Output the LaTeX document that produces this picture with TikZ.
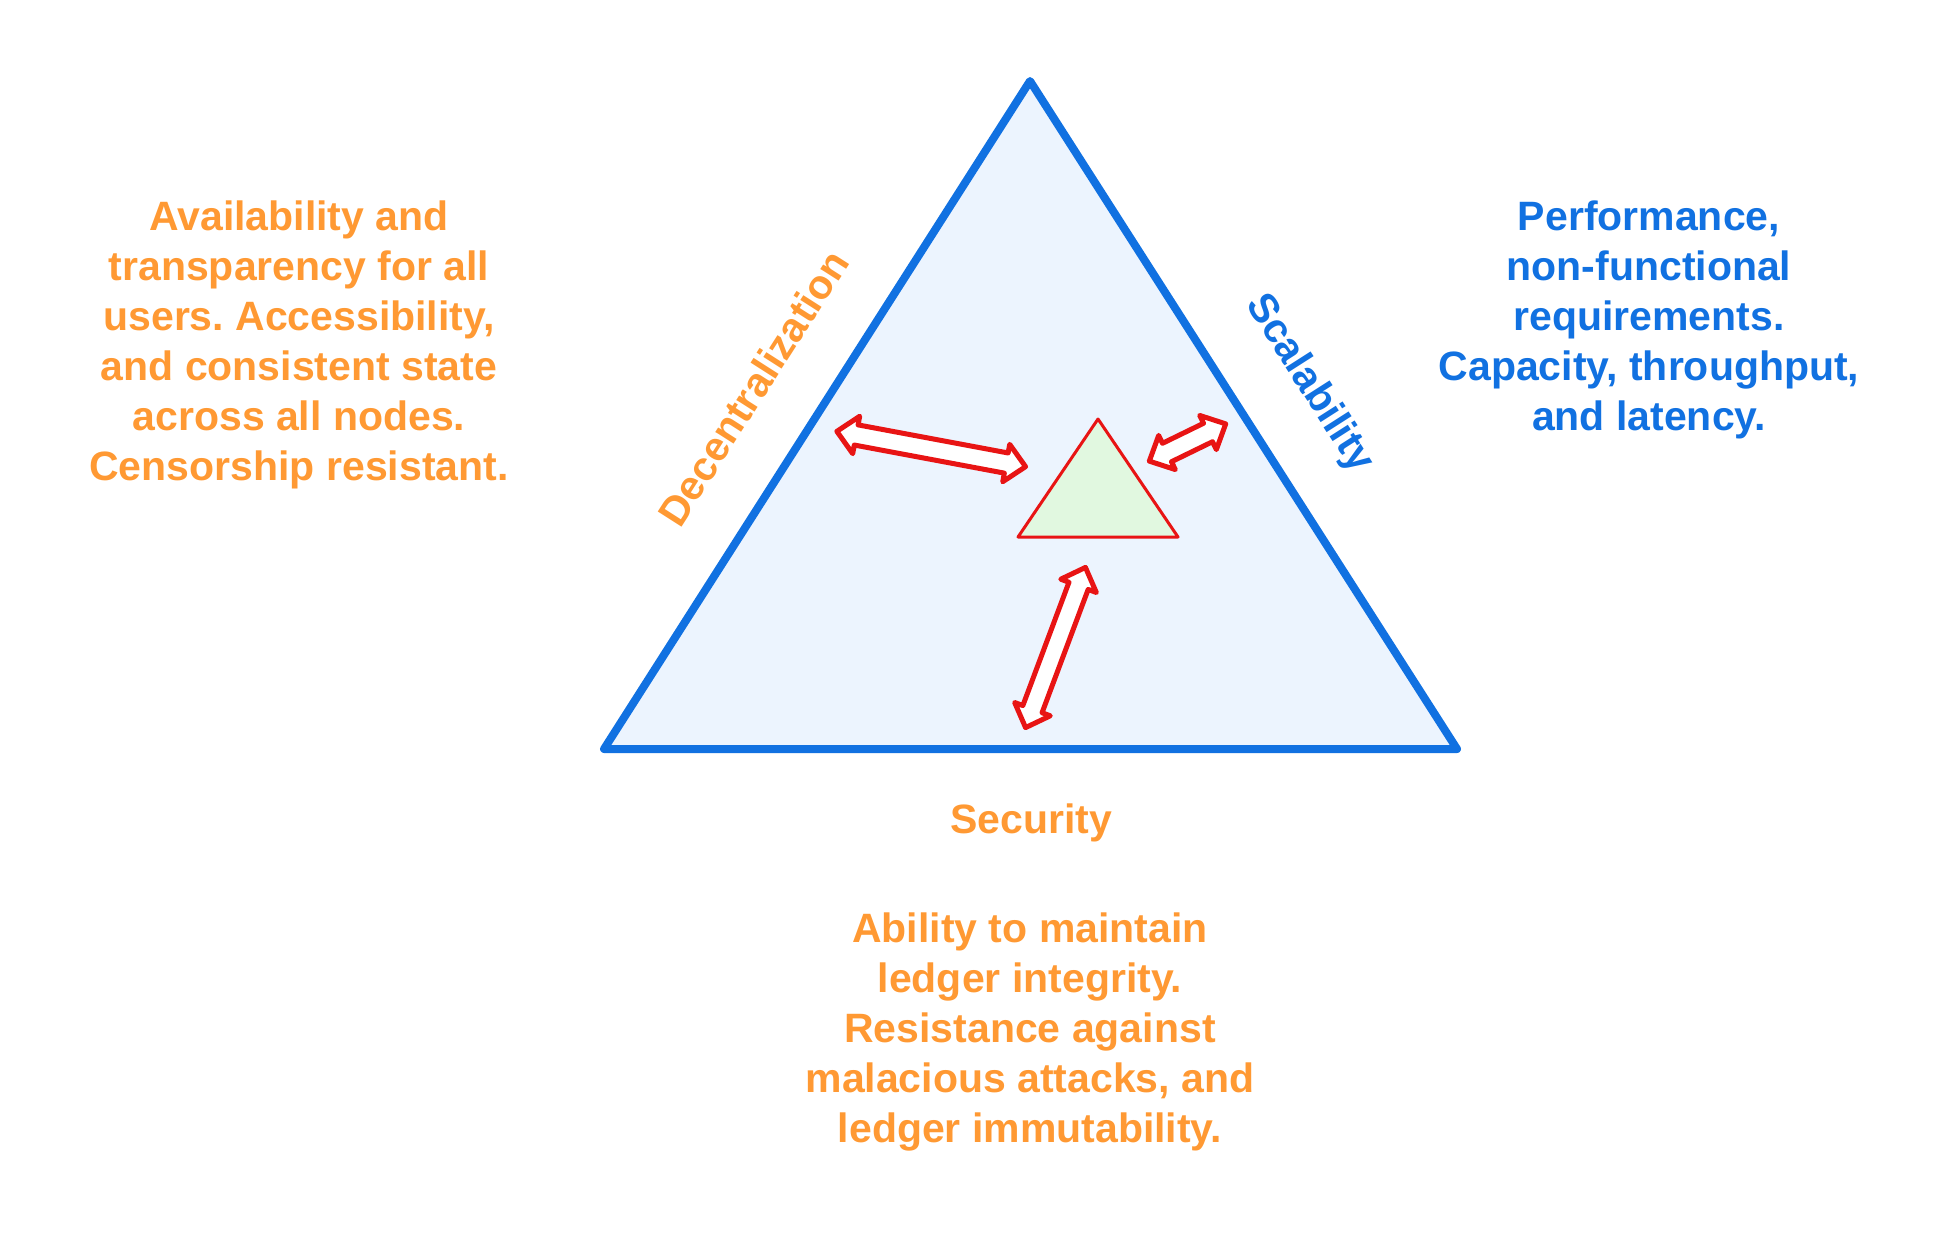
\documentclass[tikz,border=0pt]{standalone}
\usepackage{fontspec}
\setmainfont{Liberation Sans}
\usetikzlibrary{shapes.arrows}
\frenchspacing

\definecolor{edgeblue}{RGB}{17,113,225}
\definecolor{labelorange}{RGB}{255,153,51}
\definecolor{panelblue}{RGB}{236,244,254}
\definecolor{coregreen}{RGB}{225,248,224}
\definecolor{linkred}{RGB}{232,20,20}

\begin{document}
\begin{tikzpicture}[x=1pt,y=-1pt,
  txt/.style={font=\fontsize{41}{50}\selectfont\bfseries, align=center, inner sep=0pt},
  sidelabel/.style={font=\fontsize{41}{50}\selectfont\bfseries, inner sep=0pt},
  link/.style={double arrow, draw=linkred, fill=white, line width=5pt,
    line join=round, inner sep=7.75pt, double arrow head extend=8.75pt,
    double arrow tip angle=88, minimum width=33pt, anchor=center}
]
\useasboundingbox (0,0) rectangle (1950,1239);

% outer trilemma triangle
\coordinate (apex) at (1030,81);
\coordinate (left) at (604,749);
\coordinate (right) at (1457,749);
\filldraw[fill=panelblue, draw=edgeblue, line width=8pt, line join=round]
  (apex) -- (left) -- (right) -- cycle;

% inner balance triangle
\coordinate (capex) at (1098,419);
\coordinate (cleft) at (1018,537);
\coordinate (cright) at (1178,537);
\filldraw[fill=coregreen, draw=linkred, line width=3pt, line join=round]
  (capex) -- (cleft) -- (cright) -- cycle;

% trade-off arrows
\node[link, minimum height=192pt, rotate=-10.6] (tdec) at (931.2,449) {};
\node[link, minimum height=85pt, rotate=26] (tsca) at (1187.5,442.5) {};
\node[link, minimum height=171pt, rotate=69.5] (tsec) at (1055.5,647.5) {};

% edge labels
\node[sidelabel, text=labelorange, rotate=57.4] (dec) at (753,388) {Decentralization};
\node[sidelabel, text=edgeblue, rotate=-57.4] (sca) at (1309,384) {Scalability};
\node[sidelabel, text=labelorange, anchor=base] (sec) at (1031,833) {Security};

% descriptions
\node[txt, text=labelorange, anchor=north] (decdesc) at (299,200.6)
  {Availability and\\transparency for all\\users. Accessibility,\\and consistent state\\across all nodes.\\Censorship resistant.};
\node[txt, text=edgeblue, anchor=north] (scadesc) at (1649,200.6)
  {Performance,\\non-functional\\requirements.\\Capacity, throughput,\\and latency.};
\node[txt, text=labelorange, anchor=north] (secdesc) at (1030,912.6)
  {Ability to maintain\\ledger integrity.\\Resistance against\\malacious attacks, and\\ledger immutability.};
\end{tikzpicture}
\end{document}
